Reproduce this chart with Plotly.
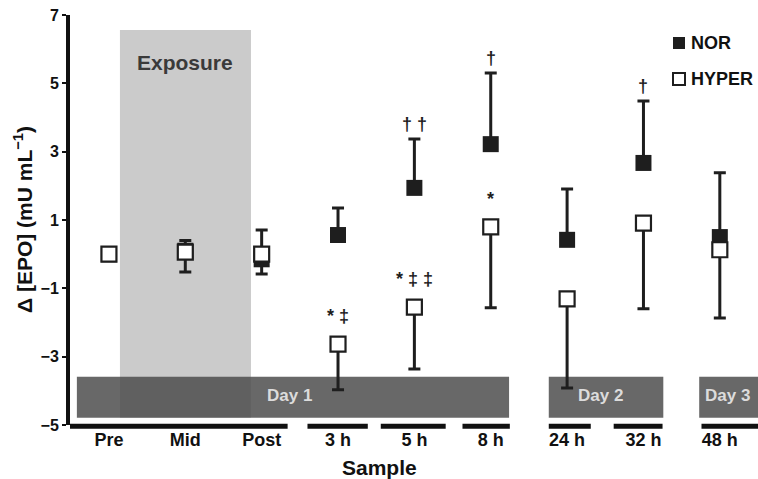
import plotly.graph_objects as go

# ---------------- data ----------------
categories = ["Pre", "Mid", "Post", "3 h", "5 h", "8 h", "24 h", "32 h", "48 h"]
nor_mean = [0.0, 0.10, -0.15, 0.56, 1.94, 3.22, 0.42, 2.67, 0.50]
nor_err_up = [0.0, 0.30, 0.86, 0.79, 1.43, 2.08, 1.49, 1.81, 1.88]
hyper_mean = [0.0, 0.06, 0.0, -2.63, -1.55, 0.80, -1.31, 0.91, 0.13]
hyper_err_down = [0.0, 0.58, 0.58, 1.34, 1.81, 2.37, 2.61, 2.51, 2.00]
nor_marks = ["", "", "", "", "† †", "†", "", "†", ""]
hyper_marks = ["", "", "", "* ‡", "* ‡ ‡", "*", "", "", ""]
y_ticks = [7, 5, 3, 1, -1, -3, -5]
day_labels = ["Day 1", "Day 2", "Day 3"]
day_label_x = [2.37, 6.44, 8.1]
day_spans = [(-0.42, 5.24), (5.76, 7.26), (7.73, 8.6)]
exposure_span = (0.144, 1.86)
axis_segments = [(-0.51, 2.34), (2.60, 3.39), (3.56, 4.41), (4.63, 5.25),
                 (5.76, 6.31), (6.61, 7.25), (7.76, 8.6)]
series_names = ["NOR", "HYPER"]

x = list(range(len(categories)))
FONT = "Liberation Sans, Arial, Helvetica, sans-serif"
INK = "#1e1e1e"

W, H = 758, 479
ML, MR, MT, MB = 70, 0, 15, 54
PW, PH = W - ML - MR, H - MT - MB


def px_to_paper(px, py):
    return (px - ML) / PW, (H - MB - py) / PH


fig = go.Figure()

fig.add_trace(go.Scatter(
    x=x, y=nor_mean, mode="markers", name=series_names[0], showlegend=False,
    marker=dict(symbol="square", size=16, color=INK, line=dict(width=0)),
    error_y=dict(type="data", symmetric=False, array=nor_err_up,
                 arrayminus=[0] * len(x), color=INK, thickness=3, width=6),
))
fig.add_trace(go.Scatter(
    x=x, y=hyper_mean, mode="markers", name=series_names[1], showlegend=False,
    marker=dict(symbol="square", size=15, color="white", line=dict(width=2.2, color=INK)),
    error_y=dict(type="data", symmetric=False, array=[0] * len(x),
                 arrayminus=hyper_err_down, color=INK, thickness=3, width=6),
))

shapes = []
# exposure region
shapes.append(dict(type="rect", xref="x", yref="y", x0=exposure_span[0], x1=exposure_span[1],
                   y0=-4.79, y1=6.56, fillcolor="#cbcbcb", line=dict(width=0), layer="below"))
# day bands
for (a, b) in day_spans:
    shapes.append(dict(type="rect", xref="x", yref="y", x0=a, x1=b, y0=-4.79, y1=-3.59,
                       fillcolor="rgba(78,78,78,0.85)", line=dict(width=0), layer="below"))
# broken bottom axis
for (a, b) in axis_segments:
    shapes.append(dict(type="line", xref="x", yref="paper", x0=a, x1=b, y0=-0.003, y1=-0.003,
                       line=dict(color="#111111", width=5), layer="above"))

annotations = []
annotations.append(dict(x=sum(exposure_span) / 2, y=5.6, xref="x", yref="y", text="<b>Exposure</b>",
                        showarrow=False, font=dict(family=FONT, size=21, color="#3a3a3a")))
for lab, cx in zip(day_labels, day_label_x):
    annotations.append(dict(x=cx, y=-4.15, xref="x", yref="y", text="<b>" + lab + "</b>",
                            showarrow=False, font=dict(family=FONT, size=17, color="#dcdcdc")))
for xi, m, e, t in zip(x, nor_mean, nor_err_up, nor_marks):
    if t:
        annotations.append(dict(x=xi, y=m + e, xref="x", yref="y", text="<b>" + t + "</b>",
                                showarrow=False, yanchor="bottom", yshift=3,
                                font=dict(family=FONT, size=18, color=INK)))
for xi, m, t in zip(x, hyper_mean, hyper_marks):
    if t:
        annotations.append(dict(x=xi, y=m, xref="x", yref="y", text="<b>" + t + "</b>",
                                showarrow=False, yanchor="bottom", yshift=16,
                                font=dict(family=FONT, size=18, color=INK)))
# y-axis title
annotations.append(dict(x=0, y=0.5, xref="paper", yref="paper", xshift=-47,
                        text="<b>Δ [EPO] (mU mL<sup>−1</sup>)</b>", textangle=-90,
                        showarrow=False, xanchor="center", yanchor="middle",
                        font=dict(family=FONT, size=21, color="#111111")))
# x-axis title
annotations.append(dict(x=0.45, y=0, xref="paper", yref="paper", yshift=-42,
                        text="<b>Sample</b>", showarrow=False, xanchor="center", yanchor="middle",
                        font=dict(family=FONT, size=21, color="#111111")))

# manual legend
legend_rows_px = [43, 79]
for name, py in zip(series_names, legend_rows_px):
    sx, sy = px_to_paper(679, py)
    tx, _ = px_to_paper(689, py)
    filled = name == "NOR"
    shapes.append(dict(type="rect", xref="paper", yref="paper", xsizemode="pixel", ysizemode="pixel",
                       xanchor=sx, yanchor=sy, x0=-6, x1=6, y0=-6, y1=6,
                       fillcolor=INK if filled else "white",
                       line=dict(color=INK, width=0 if filled else 2)))
    annotations.append(dict(x=tx, y=sy, xref="paper", yref="paper", text="<b>" + name + "</b>",
                            showarrow=False, xanchor="left", yanchor="middle",
                            font=dict(family=FONT, size=18, color="#111111")))

fig.update_layout(
    width=W, height=H,
    margin=dict(l=ML, r=MR, t=MT, b=MB),
    paper_bgcolor="white", plot_bgcolor="white",
    font=dict(family=FONT, color="#111111"),
    shapes=shapes, annotations=annotations,
    showlegend=False,
    xaxis=dict(range=[-0.51, 8.5], tickvals=x, ticktext=categories, showgrid=False,
               zeroline=False, showline=False, ticks="", ticklabelstandoff=2,
               tickfont=dict(family=FONT, size=18, color="#111111", weight="bold")),
    yaxis=dict(range=[-5, 7], tickvals=y_ticks, ticktext=[str(v).replace("-", "−") for v in y_ticks],
               showgrid=False, zeroline=False, showline=True, linewidth=4, linecolor="#111111",
               ticks="outside", ticklen=4, tickwidth=2, tickcolor="#111111",
               tickfont=dict(family=FONT, size=16, color="#111111", weight="bold")),
)

fig.write_html("out.html", config={"displayModeBar": False},
               post_script="document.body.style.margin='0px';document.body.style.padding='0px';")
